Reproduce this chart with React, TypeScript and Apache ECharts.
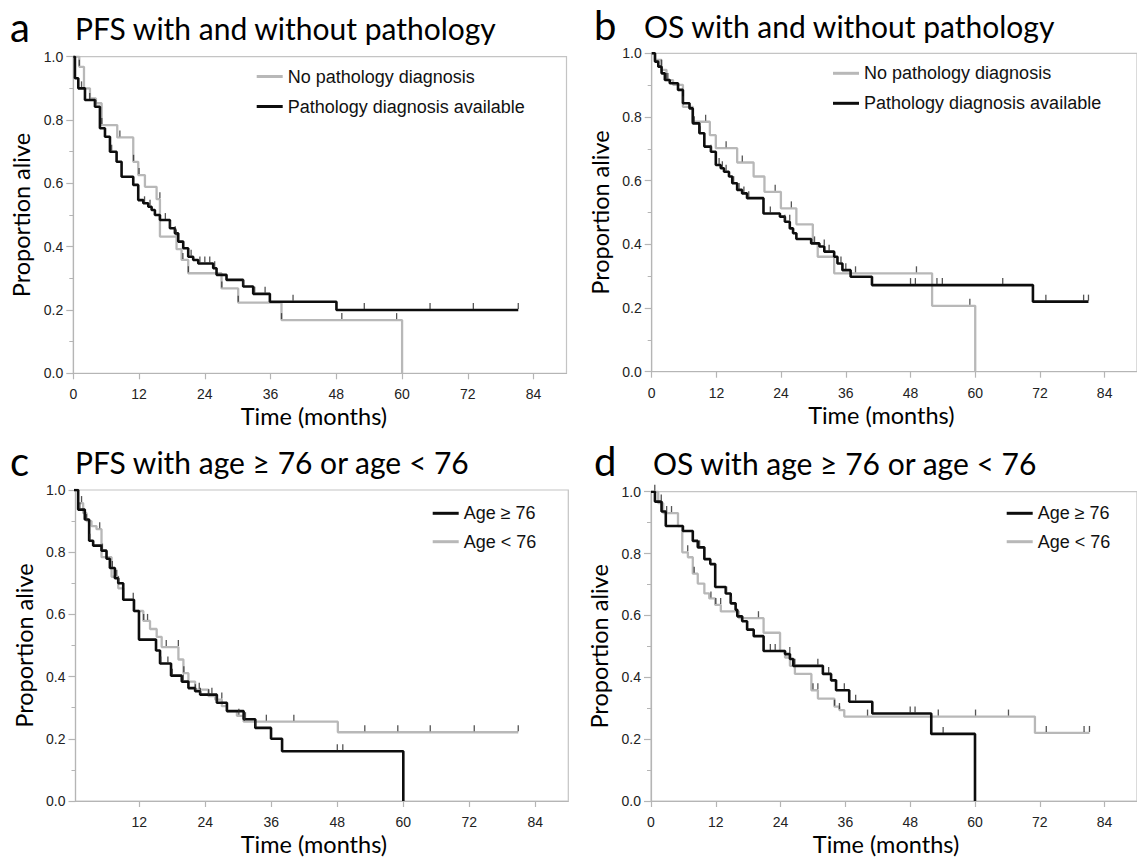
import { useEffect, useRef } from "react";
import * as echarts from "echarts";

// ---------- tick labels ----------
const xTicksFull = [0, 12, 24, 36, 48, 60, 72, 84];
const xTicksC = [12, 24, 36, 48, 60, 72, 84];

// ---------- legend names ----------
const NO_PATH = "No pathology diagnosis";
const PATH = "Pathology diagnosis available";
const OLD = "Age ≥ 76";
const YOUNG = "Age < 76";

// ---------- Panel a: PFS with and without pathology ----------
const aNoPathT = [1.09, 1.95, 3.04, 4.13, 5.17, 8.02, 10.94, 11.85, 13.07, 15.2, 15.81, 18.84, 19.76, 20.97, 27.05, 30.09, 37.99, 60.0];
const aNoPathS = [0.968, 0.9, 0.868, 0.853, 0.784, 0.745, 0.668, 0.626, 0.589, 0.55, 0.432, 0.392, 0.358, 0.316, 0.268, 0.223, 0.168, 0];
const aNoPathEnd = 60.0;
const aNoPathC = [1.1, 5.2, 8.5, 11.0, 12.0, 15.8, 18.8, 20.0, 21.0, 27.1, 30.1, 38.0, 49.0, 59.0];

const aPathT = [0.3, 0.91, 2.13, 3.95, 4.86, 5.78, 6.69, 7.9, 8.81, 10.94, 11.85, 12.77, 13.68, 14.29, 14.89, 15.81, 17.63, 18.54, 19.15, 20.06, 20.97, 21.88, 22.8, 25.53, 26.14, 27.96, 31.0, 32.83, 35.87, 48.02];
const aPathS = [0.932, 0.9, 0.863, 0.842, 0.774, 0.747, 0.7, 0.668, 0.621, 0.595, 0.547, 0.537, 0.526, 0.516, 0.5, 0.484, 0.458, 0.442, 0.416, 0.395, 0.368, 0.358, 0.347, 0.332, 0.311, 0.295, 0.274, 0.251, 0.226, 0.2];
const aPathEnd = 81.2;
const aPathC = [1.5, 3.0, 4.1, 7.0, 13.0, 14.0, 16.8, 17.7, 18.6, 21.5, 23.1, 24.0, 24.9, 25.8, 31.0, 33.1, 35.0, 40.1, 53.1, 65.1, 73.0, 81.2];

// ---------- Panel b: OS with and without pathology ----------
const bNoPathT = [0.61, 1.83, 2.74, 3.96, 5.79, 7.62, 10.79, 11.89, 15.85, 18.9, 20.91, 23.96, 26.83, 29.88, 30.79, 33.84, 52.0, 60.0];
const bNoPathS = [0.979, 0.948, 0.916, 0.901, 0.832, 0.785, 0.743, 0.702, 0.657, 0.613, 0.565, 0.513, 0.463, 0.403, 0.361, 0.309, 0.207, 0];
const bNoPathEnd = 60.0;
const bNoPathC = [3.0, 10.0, 13.8, 16.8, 22.9, 25.9, 37.8, 49.1, 59.0];

const bPathT = [0.61, 1.22, 1.83, 2.44, 3.35, 4.88, 5.79, 7.01, 7.62, 8.84, 9.76, 10.98, 11.89, 12.8, 13.41, 14.33, 14.94, 15.85, 16.77, 17.68, 20.73, 23.78, 24.7, 25.61, 26.22, 26.83, 29.57, 31.1, 32.01, 33.84, 34.45, 35.37, 36.89, 40.85, 70.7];
const bPathS = [0.974, 0.958, 0.937, 0.916, 0.906, 0.885, 0.843, 0.827, 0.78, 0.749, 0.707, 0.691, 0.649, 0.639, 0.628, 0.613, 0.592, 0.571, 0.56, 0.545, 0.497, 0.487, 0.471, 0.45, 0.435, 0.417, 0.403, 0.393, 0.377, 0.361, 0.34, 0.319, 0.298, 0.272, 0.22];
const bPathEnd = 81.0;
const bPathC = [1.8, 2.7, 5.8, 7.9, 9.0, 11.0, 12.5, 13.1, 13.8, 15.2, 16.2, 17.1, 18.0, 22.0, 24.7, 25.6, 30.2, 32.0, 32.9, 35.1, 36.0, 48.0, 48.9, 52.9, 53.9, 65.1, 73.1, 80.1, 81.0];

// ---------- Panel c: PFS with age >= 76 or < 76 ----------
const cOldT = [0.88, 2.09, 2.88, 3.61, 5.13, 6.04, 6.65, 7.56, 8.17, 9.08, 11.03, 11.94, 15.04, 15.77, 17.77, 19.72, 20.93, 22.15, 23.06, 26.1, 27.93, 30.97, 33.09, 35.95, 37.96, 60.0];
const cOldS = [0.937, 0.905, 0.837, 0.821, 0.805, 0.779, 0.749, 0.716, 0.7, 0.647, 0.611, 0.519, 0.484, 0.442, 0.403, 0.384, 0.363, 0.353, 0.342, 0.316, 0.289, 0.263, 0.235, 0.2, 0.16, 0];
const cOldEnd = 60.0;
const cOldC = [1.2, 3.0, 5.3, 7.1, 8.2, 15.9, 17.2, 18.0, 20.0, 22.2, 23.1, 25.2, 26.1, 31.3, 33.1, 48.0, 49.0];

const cYoungT = [0.88, 1.79, 2.4, 3.31, 4.22, 5.13, 6.96, 8.17, 9.08, 11.03, 12.73, 13.95, 15.16, 16.07, 19.11, 20.02, 20.93, 22.15, 24.58, 25.8, 27.01, 27.93, 29.75, 30.97, 48.1];
const cYoungS = [0.958, 0.926, 0.9, 0.884, 0.874, 0.784, 0.721, 0.684, 0.647, 0.611, 0.579, 0.553, 0.528, 0.495, 0.455, 0.411, 0.384, 0.358, 0.337, 0.326, 0.305, 0.289, 0.274, 0.255, 0.221];
const cYoungEnd = 80.9;
const cYoungC = [1.5, 2.4, 4.8, 7.9, 10.9, 12.8, 13.5, 16.9, 19.1, 20.1, 22.9, 24.6, 27.0, 30.1, 31.1, 35.1, 40.1, 53.0, 59.0, 64.9, 72.9, 80.9];

// ---------- Panel d: OS with age >= 76 or < 76 ----------
const dOldT = [0.73, 1.95, 2.74, 5.91, 7.74, 8.66, 9.88, 10.98, 11.89, 13.84, 14.76, 15.67, 15.98, 16.89, 17.8, 19.02, 20.85, 24.82, 25.73, 26.34, 31.83, 33.35, 34.27, 36.71, 40.98, 51.9, 60.0];
const dOldS = [0.968, 0.936, 0.889, 0.873, 0.841, 0.82, 0.782, 0.766, 0.692, 0.671, 0.639, 0.618, 0.597, 0.581, 0.554, 0.533, 0.485, 0.475, 0.459, 0.437, 0.411, 0.39, 0.358, 0.321, 0.283, 0.217, 0];
const dOldEnd = 60.0;
const dOldC = [1.9, 9.0, 14.0, 14.9, 22.1, 23.0, 25.7, 26.6, 30.9, 32.9, 35.8, 37.9, 48.0, 48.9, 54.1];

const dYoungT = [1.34, 2.26, 5.0, 5.79, 6.83, 7.74, 8.66, 9.88, 10.79, 11.89, 12.93, 16.28, 20.85, 23.9, 24.82, 25.73, 26.65, 29.7, 30.91, 33.96, 34.88, 35.79, 71.1];
const dYoungS = [0.963, 0.931, 0.889, 0.804, 0.788, 0.735, 0.703, 0.671, 0.655, 0.634, 0.613, 0.591, 0.544, 0.485, 0.464, 0.437, 0.411, 0.358, 0.331, 0.305, 0.294, 0.273, 0.22];
const dYoungEnd = 81.2;
const dYoungC = [0.7, 2.9, 3.8, 6.8, 8.0, 11.1, 12.0, 12.9, 19.9, 26.6, 30.0, 30.9, 34.0, 34.9, 40.1, 53.2, 60.1, 66.2, 73.2, 80.2, 81.2];

// ---------- titles ----------
const panelLetters = ["a", "b", "c", "d"];
const panelTitles = [
  "PFS with and without pathology",
  "OS with and without pathology",
  "PFS with age ≥ 76 or age < 76",
  "OS with age ≥ 76 or age < 76",
];

const GRAY = "#b8b8b8";
const BLACK = "#0d0d0d";
const FRAME = "#c4c4c4";
const TITLE_FONT = "Lato, 'Noto Sans', sans-serif";
const TICK_FONT = "'Liberation Sans', Arial, sans-serif";

function stepData(t: number[], s: number[], end: number) {
  const d: number[][] = [[0, 1]];
  t.forEach((x, i) => d.push([x, s[i]]));
  const lastT = t[t.length - 1];
  if (end > lastT) d.push([end, s[s.length - 1]]);
  return d;
}
function survAt(t: number[], s: number[], x: number) {
  let v = 1;
  for (let i = 0; i < t.length; i++) {
    if (t[i] <= x) v = s[i];
    else break;
  }
  return v;
}
function censorData(t: number[], s: number[], c: number[]) {
  return c.map((x) => [x, survAt(t, s, x)]);
}

export default function App() {
  const ref = useRef<HTMLDivElement>(null);
  useEffect(() => {
    if (!ref.current) return;
    const chart = echarts.init(ref.current, undefined, { renderer: "svg" });

    const grids = [
      { left: 73.3, top: 56.7, width: 493.2, height: 316.6 },
      { left: 651.7, top: 53.3, width: 490.5, height: 318.4 },
      { left: 75.5, top: 490, width: 492.8, height: 316.7 },
      { left: 651, top: 491.7, width: 490.5, height: 314 },
    ];
    const xMins = [0, 0, 0.4, 0];
    const xNamePad = [12, 26, 16, 16];

    const curves = [
      [
        { name: NO_PATH, t: aNoPathT, s: aNoPathS, end: aNoPathEnd, c: aNoPathC, color: GRAY },
        { name: PATH, t: aPathT, s: aPathS, end: aPathEnd, c: aPathC, color: BLACK },
      ],
      [
        { name: NO_PATH, t: bNoPathT, s: bNoPathS, end: bNoPathEnd, c: bNoPathC, color: GRAY },
        { name: PATH, t: bPathT, s: bPathS, end: bPathEnd, c: bPathC, color: BLACK },
      ],
      [
        { name: YOUNG, t: cYoungT, s: cYoungS, end: cYoungEnd, c: cYoungC, color: GRAY },
        { name: OLD, t: cOldT, s: cOldS, end: cOldEnd, c: cOldC, color: BLACK },
      ],
      [
        { name: YOUNG, t: dYoungT, s: dYoungS, end: dYoungEnd, c: dYoungC, color: GRAY },
        { name: OLD, t: dOldT, s: dOldS, end: dOldEnd, c: dOldC, color: BLACK },
      ],
    ];

    const series: any[] = [];
    curves.forEach((pair, gi) => {
      pair.forEach((cv) => {
        series.push({
          type: "line",
          name: cv.name,
          xAxisIndex: gi,
          yAxisIndex: gi,
          step: "end",
          symbol: "none",
          color: cv.color,
          lineStyle: { color: cv.color, width: cv.color === BLACK ? 2.6 : 2.3 },
          data: stepData(cv.t, cv.s, cv.end),
          z: cv.color === BLACK ? 3 : 2,
        });
      });
      pair.forEach((cv) => {
        series.push({
          type: "scatter",
          name: cv.name + " censored",
          xAxisIndex: gi,
          yAxisIndex: gi,
          symbol: "rect",
          symbolSize: [1.3, 6],
          symbolOffset: [0, -4],
          itemStyle: { color: "#2a2a2a" },
          data: censorData(cv.t, cv.s, cv.c),
          z: 4,
          silent: true,
        });
      });
    });

    const legendPos = [
      { left: 256.7, top: 67.5, gap: 12, data: [NO_PATH, PATH] },
      { left: 833, top: 64.3, gap: 12, data: [NO_PATH, PATH] },
      { left: 432.7, top: 504.3, gap: 10.4, data: [OLD, YOUNG] },
      { left: 1006.7, top: 504.3, gap: 10.4, data: [OLD, YOUNG] },
    ];

    const titlePos = [
      { lx: 10, ly: 27, tx: 75, ty: 27.5 },
      { lx: 594, ly: 25, tx: 644, ty: 26 },
      { lx: 10, ly: 461, tx: 75, ty: 462 },
      { lx: 594, ly: 461, tx: 653, ty: 463 },
    ];
    const graphic: any[] = [];
    titlePos.forEach((p, i) => {
      graphic.push({
        type: "text",
        x: p.lx,
        y: p.ly,
        style: { text: panelLetters[i], fontFamily: TITLE_FONT, fontSize: 40, fill: "#000", verticalAlign: "middle" },
      });
      graphic.push({
        type: "text",
        x: p.tx,
        y: p.ty,
        style: { text: panelTitles[i], fontFamily: TITLE_FONT, fontSize: 30, fill: "#000", verticalAlign: "middle" },
      });
    });

    chart.setOption({
      animation: false,
      backgroundColor: "#ffffff",
      graphic,
      grid: grids.map((g) => ({ ...g, show: true, borderColor: FRAME, borderWidth: 1.2, containLabel: false })),
      legend: legendPos.map((l) => ({
        left: l.left,
        top: l.top,
        orient: "vertical",
        itemGap: l.gap,
        itemWidth: 26,
        itemHeight: 3,
        icon: "rect",
        selectedMode: false,
        padding: 0,
        data: l.data,
        textStyle: { fontFamily: TICK_FONT, fontSize: 18, color: "#111" },
      })),
      xAxis: grids.map((_, i) => ({
        type: "value",
        gridIndex: i,
        min: xMins[i],
        max: 90,
        name: "Time (months)",
        nameLocation: "middle",
        nameGap: 31,
        nameTextStyle: { fontFamily: TITLE_FONT, fontSize: 23.5, color: "#000", padding: [0, xNamePad[i], 0, 0] },
        axisLine: { show: true, lineStyle: { color: "#b5b5b5", width: 1.2 } },
        axisTick: { show: true, length: 6, lineStyle: { color: "#b5b5b5", width: 1.2 }, customValues: i === 2 ? xTicksC : xTicksFull },
        axisLabel: { customValues: i === 2 ? xTicksC : xTicksFull, margin: 14, fontFamily: TICK_FONT, fontSize: 14, color: "#222" },
        splitLine: { show: false },
      })),
      yAxis: grids.map((_, i) => ({
        type: "value",
        gridIndex: i,
        min: 0,
        max: 1,
        interval: 0.2,
        name: "Proportion alive",
        nameLocation: "middle",
        nameGap: 40,
        nameTextStyle: { fontFamily: TITLE_FONT, fontSize: 23.5, color: "#000" },
        axisLine: { show: true, lineStyle: { color: "#b5b5b5", width: 1.2 } },
        axisTick: { show: true, length: 7, lineStyle: { color: "#b5b5b5", width: 1.2 } },
        minorTick: { show: true, splitNumber: 2, length: 4, lineStyle: { color: "#b5b5b5", width: 1 } },
        axisLabel: { margin: 10, fontFamily: TICK_FONT, fontSize: 14, color: "#222", formatter: (v: number) => v.toFixed(1) },
        splitLine: { show: false },
      })),
      series,
    });

    return () => chart.dispose();
  }, []);

  return <div ref={ref} style={{ position: "fixed", left: 0, top: 0, width: 1137, height: 857, background: "#fff" }} />;
}
